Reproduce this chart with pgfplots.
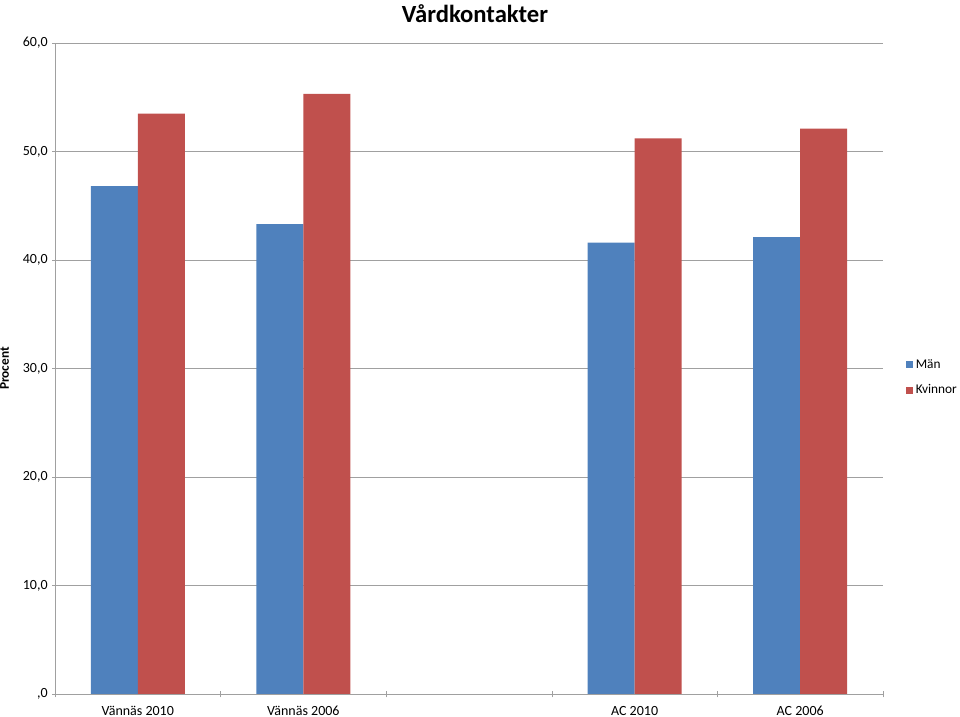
\documentclass[border=0pt]{standalone}
\usepackage{pgfplots}
\pgfplotsset{compat=1.18}
\usepackage{fontspec}
\setmainfont{Carlito}
\definecolor{manblue}{HTML}{4F81BD}
\definecolor{kvred}{HTML}{C0504D}
\definecolor{gridgray}{HTML}{A0A0A0}
\begin{document}
\begin{tikzpicture}
\begin{axis}[
  scale only axis=true,
  width=621pt, height=488.25pt,
  ybar=0pt, bar width=35.25pt,
  ymin=0, ymax=60, ytick={0,10,...,60},
  yticklabels={{,0},{10,0},{20,0},{30,0},{40,0},{50,0},{60,0}},
  xmin=-0.5, xmax=4.5,
  xtick={0,1,2,3,4},
  xticklabels={Vännäs 2010,Vännäs 2006,,AC 2010,AC 2006},
  minor xtick={-0.5,0.5,...,4.5},
  major x tick style={draw=none},
  minor tick length=5pt,
  major tick length=4pt,
  tick align=outside,
  axis lines=left,
  axis line style={-,draw=gridgray},
  tick style={gridgray},
  ymajorgrids=true,
  grid style={gridgray, line width=0.6pt},
  ticklabel style={font=\fontsize{10.5}{12}\selectfont},
  xticklabel style={anchor=base, yshift=-14pt},
  /pgf/number format/assume math mode=true,
  ylabel={\textbf{Procent}},
  ylabel style={font=\fontsize{10}{12}\selectfont, at={(axis description cs:-0.05,0.5)}},
  title={\textbf{Vårdkontakter}},
  title style={font=\fontsize{18.5}{22}\selectfont, at={(axis description cs:0.5,1.0186)}, anchor=base, xshift=4.5pt},
  legend style={draw=none, at={(1.022,0.486)}, anchor=west, font=\fontsize{10}{12}\selectfont,
    legend cell align=left, row sep=7pt},
  legend image code/.code={\fill[#1] (0cm,-0.1cm) rectangle (0.2cm,0.1cm);},
]
\addplot[fill=manblue, draw=none] coordinates {(0,46.8) (1,43.3) (3,41.6) (4,42.1)};
\addlegendentry{Män}
\addplot[fill=kvred, draw=none] coordinates {(0,53.5) (1,55.3) (3,51.2) (4,52.1)};
\addlegendentry{Kvinnor}
\end{axis}
\pgfresetboundingbox
\useasboundingbox ([xshift=-41.25pt,yshift=-17.25pt]current axis.south west) rectangle ([xshift=57.75pt,yshift=32.25pt]current axis.north east);
\end{tikzpicture}
\end{document}
